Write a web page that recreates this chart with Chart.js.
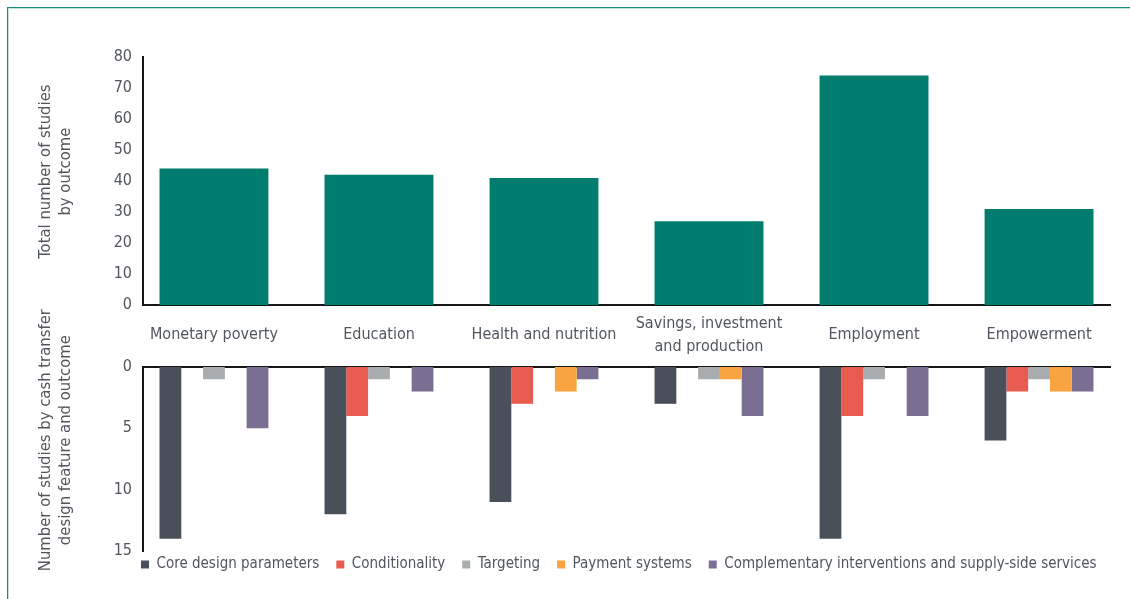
<!DOCTYPE html>
<html><head><meta charset="utf-8">
<script src="https://cdn.jsdelivr.net/npm/chart.js@4.4.1/dist/chart.umd.min.js"></script>
<style>
html,body{margin:0;padding:0;background:#fff;width:1130px;height:599px;overflow:hidden}
#frame{position:absolute;left:7px;top:7px;width:1200px;height:700px;border-top:1px solid #1f8a7c;border-left:1px solid #1f8a7c;box-shadow:inset 1px 1px 0 #bfe3dd}
#w1{position:absolute;left:0;top:0;width:1130px;height:360px}
#w2{position:absolute;left:0;top:290px;width:1130px;height:303px}
</style></head><body>
<div id="frame"></div>
<div id="w1"><canvas id="c1"></canvas></div>
<div id="w2"><canvas id="c2"></canvas></div>
<script>
// ---- data ----
const categories = [["Monetary poverty"], ["Education"], ["Health and nutrition"], ["Savings, investment", "and production"], ["Employment"], ["Empowerment"]];
const totalStudies = [44, 42, 41, 27, 74, 31];
const seriesNames = ["Core design parameters", "Conditionality", "Targeting", "Payment systems", "Complementary interventions and supply-side services"];
const coreDesign = [14, 12, 11, 3, 14, 6];
const conditionality = [0, 4, 3, 0, 4, 2];
const targeting = [1, 1, 0, 1, 1, 1];
const paymentSystems = [0, 0, 2, 1, 0, 2];
const complementary = [5, 2, 1, 4, 4, 2];
const topTicks = [0, 10, 20, 30, 40, 50, 60, 70, 80];
const bottomTicks = [0, 5, 10, 15];
const topTitle = ["Total number of studies", "by outcome"];
const bottomTitle = ["Number of studies by cash transfer", "design feature and outcome"];

// ---- styles ----
const FONT = "'Liberation Sans Narrow', 'DejaVu Sans Condensed', 'Roboto', sans-serif";
const TXT = '#51565e';
const AXIS = '#161616';
const seriesColors = ['#4a505a', '#e85c50', '#a9acae', '#f9a440', '#7a6e93'];
const X_MIN = -0.43, X_MAX = 5.43;
const toXY = arr => arr.map((v, i) => ({x: i, y: v}));
const catTicks = s => { s.ticks = categories.map((_, i) => ({value: i})); };
// leading blank space nudges the vertically-centred axis title upward
const lift = (lines, n) => lines.map(t => ' '.repeat(n) + t);

Chart.defaults.font.family = FONT;
Chart.defaults.color = TXT;

new Chart(document.getElementById('c1'), {
  type: 'bar',
  data: {datasets: [{label: 'Total', data: toXY(totalStudies), backgroundColor: '#007d6f',
    categoryPercentage: 0.66, barPercentage: 1}]},
  options: {
    responsive: true, maintainAspectRatio: false, animation: false,
    layout: {padding: {top: 57, right: 20, left: 0, bottom: 0}},
    plugins: {legend: {display: false}, tooltip: {enabled: false}},
    scales: {
      x: {type: 'linear', offset: false, bounds: 'data', min: X_MIN, max: X_MAX,
        grid: {display: false, offset: false},
        border: {display: true, color: AXIS, width: 2},
        afterBuildTicks: catTicks,
        afterFit: s => { s.height = 55; },
        ticks: {autoSkip: false, maxRotation: 0, padding: 11, crossAlign: 'center',
          font: {size: 16, lineHeight: 1.4}, color: TXT, callback: v => categories[v] || ''}},
      y: {min: 0, max: 80, grid: {display: false},
        border: {display: true, color: AXIS, width: 2},
        afterBuildTicks: s => { s.ticks = topTicks.map(v => ({value: v})); },
        afterFit: s => { s.width = 143; },
        ticks: {padding: 3, font: {size: 16}, color: TXT},
        title: {display: true, text: lift(topTitle, 4), font: {size: 16.5}, color: TXT, padding: {top: 36, bottom: 0}}}
    }
  }
});

const legendShift = {
  id: 'legendShift',
  afterLayout(chart) {
    const lg = chart.legend; if (!lg) return;
    lg.top -= 11; lg.bottom -= 11;
    lg.left += 124; lg.right += 124;
  }
};

const bottomSeries = [coreDesign, conditionality, targeting, paymentSystems, complementary];
new Chart(document.getElementById('c2'), {
  type: 'bar',
  data: {datasets: bottomSeries.map((arr, k) => ({label: seriesNames[k], data: toXY(arr),
    backgroundColor: seriesColors[k], categoryPercentage: 0.66, barPercentage: 1}))},
  options: {
    responsive: true, maintainAspectRatio: false, animation: false,
    layout: {padding: {top: 77, right: 20, left: 0, bottom: 0}},
    plugins: {
      tooltip: {enabled: false},
      legend: {position: 'bottom', align: 'start',
        labels: {boxWidth: 8, boxHeight: 8, padding: 17, font: {size: 15}, color: TXT}}
    },
    scales: {
      x: {type: 'linear', offset: false, bounds: 'data', position: 'top', min: X_MIN, max: X_MAX,
        grid: {display: false, offset: false},
        border: {display: true, color: AXIS, width: 2},
        afterBuildTicks: catTicks,
        afterFit: s => { s.height = 0; },
        ticks: {display: false}},
      y: {min: 0, max: 15, reverse: true, grid: {display: false},
        border: {display: true, color: AXIS, width: 2},
        afterBuildTicks: s => { s.ticks = bottomTicks.map(v => ({value: v})); },
        afterFit: s => { s.width = 143; },
        ticks: {padding: 3, font: {size: 16}, color: TXT},
        title: {display: true, text: lift(bottomTitle, 8), font: {size: 16.5}, color: TXT, padding: {top: 36, bottom: 0}}}
    }
  },
  plugins: [legendShift]
});
</script>
</body></html>
